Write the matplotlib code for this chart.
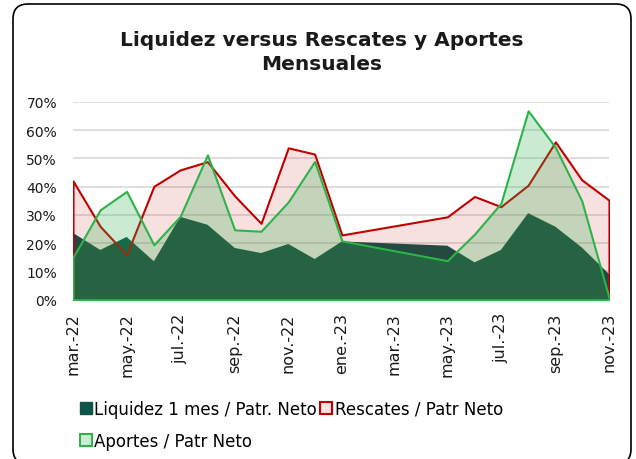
import numpy as np
import pandas as pd
import matplotlib
matplotlib.use('Agg')
import matplotlib.pyplot as plt
from matplotlib.patches import Patch, FancyBboxPatch
from matplotlib.colors import to_rgba

# monthly data (feb-apr 2023 not reported)
months = ['2022-03', '2022-04', '2022-05', '2022-06', '2022-07', '2022-08', '2022-09',
          '2022-10', '2022-11', '2022-12', '2023-01', '2023-05', '2023-06', '2023-07',
          '2023-08', '2023-09', '2023-10', '2023-11']
liquidez = [23.6, 17.6, 22.2, 13.6, 29.3, 26.5, 18.3, 16.5, 19.7, 14.4, 20.6,
            19.1, 13.2, 17.6, 30.6, 25.8, 18.5, 9.1]
rescates = [42.0, 25.9, 15.9, 40.1, 45.9, 48.8, 36.7, 27.0, 53.7, 51.5, 22.9,
            29.3, 36.5, 32.9, 40.5, 55.8, 42.4, 35.2]
aportes = [15.0, 31.8, 38.3, 19.4, 29.5, 51.2, 24.7, 24.2, 34.6, 48.9, 20.8,
           13.8, 23.2, 34.1, 66.8, 53.9, 35.0, 0.8]

tick_months = ['2022-03', '2022-05', '2022-07', '2022-09', '2022-11', '2023-01',
               '2023-03', '2023-05', '2023-07', '2023-09', '2023-11']
tick_labels = ['mar.-22', 'may.-22', 'jul.-22', 'sep.-22', 'nov.-22', 'ene.-23',
               'mar.-23', 'may.-23', 'jul.-23', 'sep.-23', 'nov.-23']
y_ticks = [0, 10, 20, 30, 40, 50, 60, 70]

plt.rcParams['font.family'] = ['DejaVu Sans']

x = pd.to_datetime(months)
liq = np.array(liquidez) / 100
res = np.array(rescates) / 100
apo = np.array(aportes) / 100

fig = plt.figure(figsize=(6.36, 4.6), dpi=100)
ax = fig.add_axes([0.1148, 0.3463, 0.8427, 0.4304])

dark = '#0e5449'
red = '#c00000'
green = '#2db34a'

ax.fill_between(x, 0, liq, facecolor=dark, edgecolor='none', zorder=2)
ax.fill_between(x, 0, res, facecolor=to_rgba(red, 0.12), edgecolor=red, lw=1.5, zorder=3)
ax.fill_between(x, 0, apo, facecolor=to_rgba(green, 0.25), edgecolor=green, lw=1.5, zorder=4)

ax.set_xlim(x[0], x[-1])
ax.set_ylim(0, 0.7)
ax.set_yticks([v / 100 for v in y_ticks])
ax.set_yticklabels([f'{v}%' for v in y_ticks])
ax.set_xticks(pd.to_datetime(tick_months))
ax.set_xticklabels(tick_labels, rotation=90)
ax.grid(axis='y', color='#d9d9d9', lw=1.2, zorder=0)
ax.set_axisbelow(True)
for s in ['top', 'right', 'left']:
    ax.spines[s].set_visible(False)
ax.spines['bottom'].set_color('#d9d9d9')
ax.tick_params(axis='both', length=0, colors='#1a1a1a')
ax.tick_params(axis='y', pad=11.5, labelsize=10)
ax.tick_params(axis='x', pad=9, labelsize=11.5)

fig.text(0.506, 0.886, 'Liquidez versus Rescates y Aportes\nMensuales', ha='center', va='center',
         fontsize=14.5, fontweight='bold', color='#1a1a1a', linespacing=1.3)

handles = [Patch(facecolor=dark, edgecolor=dark, label='Liquidez 1 mes / Patr. Neto'),
           Patch(facecolor=to_rgba(green, 0.25), edgecolor=green, lw=1.5, label='Aportes / Patr Neto'),
           Patch(facecolor=to_rgba(red, 0.12), edgecolor=red, lw=1.5, label='Rescates / Patr Neto')]
fig.legend(handles=handles, ncol=2, loc='upper left', bbox_to_anchor=(0.113, 0.147),
           frameon=False, fontsize=12, handlelength=0.7, handleheight=0.7,
           handletextpad=0.15, columnspacing=0.2, labelspacing=0.85, borderpad=0)

border = FancyBboxPatch((0.13, -0.05), 6.18, 4.6, boxstyle='round,pad=0,rounding_size=0.15',
                        transform=fig.dpi_scale_trans, facecolor='none', edgecolor='black', lw=1.2)
fig.patches.append(border)

fig.savefig('out.png', dpi=100)
